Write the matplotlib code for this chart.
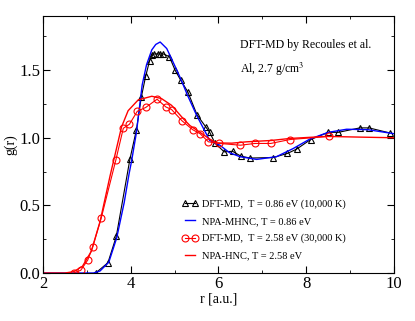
import matplotlib
matplotlib.use('Agg')
import matplotlib.pyplot as plt
from matplotlib.ticker import MultipleLocator, FormatStrFormatter

plt.rcParams['font.family'] = 'Liberation Serif'
plt.rcParams['mathtext.fontset'] = 'stix'

# DFT-MD, T = 0.86 eV (triangles)
r_md1 = [3.20, 3.48, 3.67, 3.98, 4.13, 4.24, 4.34, 4.43, 4.48, 4.54, 4.61, 4.67, 4.74,
         4.88, 5.01, 5.14, 5.30, 5.51, 5.71, 5.80, 5.92, 6.13, 6.32, 6.51, 6.72, 7.25,
         7.57, 7.78, 8.10, 8.50, 8.73, 9.22, 9.43, 9.90]
g_md1 = [0.0, 0.076, 0.27, 0.84, 1.06, 1.30, 1.455, 1.57, 1.61, 1.62, 1.62, 1.62, 1.62,
         1.60, 1.50, 1.425, 1.34, 1.17, 1.08, 1.04, 0.96, 0.896, 0.90, 0.864, 0.85, 0.854,
         0.884, 0.916, 0.987, 1.04, 1.04, 1.073, 1.073, 1.036]

# NPA-MHNC, T = 0.86 eV
r_npa1 = [2.0, 3.0, 3.15, 3.3, 3.5, 3.68, 3.85, 3.96, 4.02, 4.13, 4.26, 4.36, 4.48, 4.57,
          4.67, 4.82, 4.95, 5.12, 5.30, 5.50, 5.80, 6.03, 6.25, 6.49, 6.87, 7.32, 7.70,
          8.08, 8.50, 8.92, 9.40, 10.0]
g_npa1 = [0.0, 0.0, 0.0, 0.015, 0.08, 0.26, 0.52, 0.73, 0.83, 1.04, 1.39, 1.54, 1.65, 1.69,
          1.708, 1.66, 1.57, 1.45, 1.31, 1.167, 0.98, 0.945, 0.89, 0.86, 0.84, 0.86, 0.92,
          0.99, 1.04, 1.063, 1.06, 1.03]

# DFT-MD, T = 2.58 eV (circles)
r_md2 = [2.71, 2.86, 3.02, 3.13, 3.33, 3.66, 3.83, 3.97, 4.15, 4.34, 4.60, 4.80, 4.93,
         5.17, 5.41, 5.58, 5.77, 6.02, 6.50, 6.83, 7.19, 7.63, 8.51]
g_md2 = [0.002, 0.02, 0.096, 0.19, 0.41, 0.835, 1.07, 1.10, 1.196, 1.224, 1.285, 1.228, 1.209,
         1.125, 1.06, 1.03, 0.97, 0.958, 0.945, 0.958, 0.958, 0.987, 1.01]

# NPA-HNC, T = 2.58 eV
r_npa2 = [2.0, 2.5, 2.7, 2.9, 3.1, 3.3, 3.53, 3.66, 3.79, 3.94, 4.17, 4.48, 4.70, 4.93,
          5.20, 5.35, 5.58, 5.80, 5.96, 6.3, 6.64, 7.2, 7.63, 8.46, 9.2, 10.0]
g_npa2 = [0.0, 0.0, 0.01, 0.05, 0.16, 0.38, 0.72, 0.90, 1.08, 1.20, 1.28, 1.307, 1.29, 1.24,
          1.14, 1.09, 1.04, 0.99, 0.962, 0.96, 0.97, 0.98, 0.995, 1.01, 1.005, 1.0]

fig = plt.figure(figsize=(4.15, 3.21), dpi=100)
ax = fig.add_axes([0.1036, 0.1495, 0.8458, 0.8005])

ax.plot(r_md1, g_md1, '-', color='k', lw=0.8, marker='^', ms=5, mfc='none', mec='k',
        mew=0.8, label='DFT-MD,  T = 0.86 eV (10,000 K)')
ax.plot(r_npa1, g_npa1, '-', color='#0000ff', lw=1.0, label='NPA-MHNC, T = 0.86 eV')
ax.plot(r_md2, g_md2, '-', color='#ff0000', lw=0.8, marker='o', ms=5, mfc='none', mec='#ff0000',
        mew=0.8, label='DFT-MD,  T = 2.58 eV (30,000 K)')
ax.plot(r_npa2, g_npa2, '-', color='#ff0000', lw=1.0, label='NPA-HNC, T = 2.58 eV')

ax.set_xlim(2, 10)
ax.set_ylim(0, 1.9)
ax.xaxis.set_major_locator(MultipleLocator(2))
ax.xaxis.set_minor_locator(MultipleLocator(1))
ax.yaxis.set_major_locator(MultipleLocator(0.5))
ax.yaxis.set_minor_locator(MultipleLocator(0.25))
ax.yaxis.set_major_formatter(FormatStrFormatter('%.1f'))
ax.tick_params(which='both', direction='in', top=True, right=True, labelsize=12, pad=2)
ax.tick_params(which='major', length=5)
ax.tick_params(which='minor', length=2.5)

ax.set_xlabel('r [a.u.]', fontsize=10, labelpad=0.5)
ax.set_ylabel('g(r)', fontsize=10, labelpad=1)

ax.text(0.561, 0.875, 'DFT-MD by Recoules et al.', transform=ax.transAxes, fontsize=8.5)
ax.text(0.561, 0.778, 'Al, 2.7 g/cm$^3$', transform=ax.transAxes, fontsize=8.5)

ax.legend(loc='lower left', bbox_to_anchor=(0.369, 0.012), frameon=False, fontsize=7.5,
          numpoints=2, handlelength=1.6, handletextpad=0.3, labelspacing=0.75)

fig.savefig('out.png', dpi=100)
